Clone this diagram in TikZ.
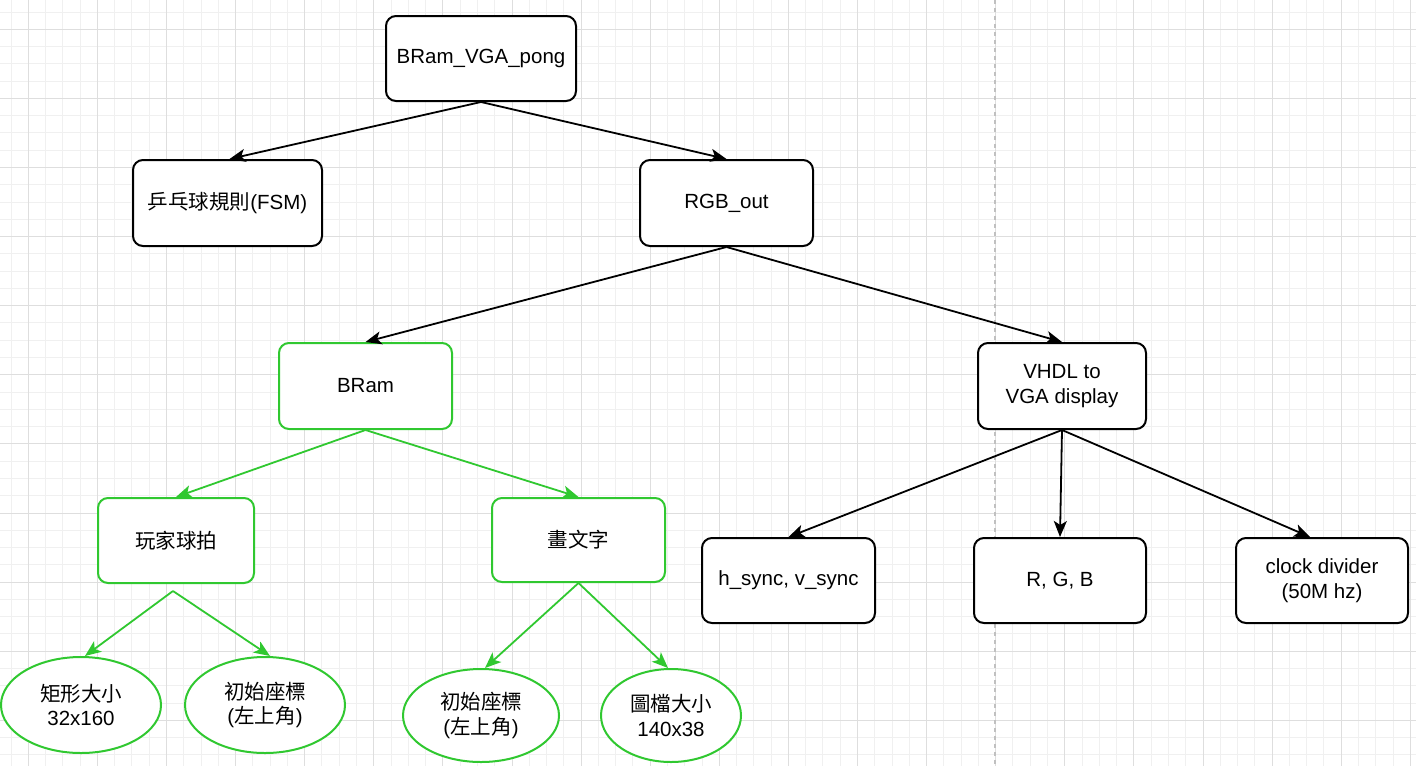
\documentclass[tikz,border=0pt]{standalone}
\usepackage{fontspec}
\setmainfont{Liberation Sans}
\newfontfamily\cjk{Noto Sans CJK TC}
\usetikzlibrary{arrows.meta,shapes.geometric}
\definecolor{gridminor}{RGB}{240,240,240}
\definecolor{gridmajor}{RGB}{222,222,222}
\definecolor{dashgray}{RGB}{192,192,192}
\definecolor{boxgreen}{RGB}{48,200,48}
\tikzset{
  blackbox/.style={draw=black, line width=2pt, rounded corners=10pt, fill=white,
    inner sep=0pt, align=center, font=\fontsize{20.5}{24.6}\selectfont},
  greenbox/.style={blackbox, draw=boxgreen},
  greenoval/.style={ellipse, draw=boxgreen, line width=2pt, fill=white, inner sep=0pt,
    align=center, font=\fontsize{20.5}{24.6}\selectfont},
  blackarrow/.style={draw=black, line width=1.8pt, -{Stealth[length=16pt,width=13pt,inset=4pt]}},
  greenarrow/.style={blackarrow, draw=boxgreen, -{Stealth[length=16pt,width=13pt,inset=4pt,fill=boxgreen]}},
}
\begin{document}
\begin{tikzpicture}[x=1pt,y=-1pt]
\useasboundingbox (0,0) rectangle (1416,766);
\fill[white] (0,0) rectangle (1416,766);
\begin{scope}
\clip (0,0) rectangle (1416,766);
\foreach \i in {-2,...,82} {
  \draw[gridminor, line width=1pt] ({28.3+17.275*\i},0) -- ({28.3+17.275*\i},766);
}
\foreach \i in {-2,...,45} {
  \draw[gridminor, line width=1pt] (0,{29.3+17.275*\i}) -- (1416,{29.3+17.275*\i});
}
\foreach \i in {-1,...,20} {
  \draw[gridmajor, line width=1pt] ({28.3+69.1*\i},0) -- ({28.3+69.1*\i},766);
}
\foreach \i in {-1,...,11} {
  \draw[gridmajor, line width=1pt] (0,{29.3+69.1*\i}) -- (1416,{29.3+69.1*\i});
}
\end{scope}
\coordinate (dtop) at (995,0);
\coordinate (dbot) at (995,766);
\draw[dashgray, line width=1.5pt, dash pattern=on 4pt off 4pt] (dtop) -- (dbot);

\node[blackbox, minimum width=190, minimum height=85] (top) at (481,58.5) {BRam\_VGA\_pong};
\node[blackbox, minimum width=189, minimum height=86] (fsm) at (227.5,203) {{\cjk 乒乓球規則}(FSM)};
\node[blackbox, minimum width=173, minimum height=86] (rgbout) at (726.5,203) {RGB\_out};
\node[greenbox, minimum width=173, minimum height=86] (bram) at (365.5,386) {BRam};
\node[blackbox, minimum width=168, minimum height=86] (vhdl) at (1062,386) {VHDL to\\VGA display};
\node[greenbox, minimum width=156, minimum height=85] (paddle) at (176,540.5) {\cjk 玩家球拍};
\node[greenbox, minimum width=173, minimum height=84] (text) at (578.5,540) {\cjk 畫文字};
\node[blackbox, minimum width=173, minimum height=85] (sync) at (788.5,580.5) {h\_sync, v\_sync};
\node[blackbox, minimum width=172, minimum height=85] (rgb) at (1060,580.5) {R, G, B};
\node[blackbox, minimum width=172, minimum height=85] (clk) at (1322,580.5) {clock divider\\(50M hz)};
\node[greenoval, minimum width=160, minimum height=96] (e1) at (81,705) {{\cjk 矩形大小}\\32x160};
\node[greenoval, minimum width=160, minimum height=96] (e2) at (265,705) {{\cjk 初始座標}\\({\cjk 左上角})};
\node[greenoval, minimum width=156, minimum height=93] (e3) at (481,715.5) {{\cjk 初始座標}\\({\cjk 左上角})};
\node[greenoval, minimum width=140, minimum height=93] (e4) at (671,715.5) {{\cjk 圖檔大小}\\140x38};

\draw[blackarrow] (top.south) -- ([xshift=2pt]fsm.north);
\draw[blackarrow] (top.south) -- (rgbout.north);
\draw[blackarrow] (rgbout.south) -- (bram.north);
\draw[blackarrow] (rgbout.south) -- (vhdl.north);
\draw[greenarrow] (bram.south) -- (paddle.north);
\draw[greenarrow] (bram.south) -- (text.north);
\draw[greenarrow] ([xshift=-3pt,yshift=-7pt]paddle.south) -- ([xshift=4pt]e1.north);
\draw[greenarrow] ([xshift=-3pt,yshift=-7pt]paddle.south) -- ([xshift=5pt]e2.north);
\draw[greenarrow] (text.south) -- ([xshift=4pt]e3.north);
\draw[greenarrow] (text.south) -- ([xshift=-3pt]e4.north);
\draw[blackarrow] (vhdl.south) -- (sync.north);
\draw[blackarrow] (vhdl.south) -- (rgb.north);
\draw[blackarrow] (vhdl.south) -- ([xshift=-12pt]clk.north);
\end{tikzpicture}
\end{document}
